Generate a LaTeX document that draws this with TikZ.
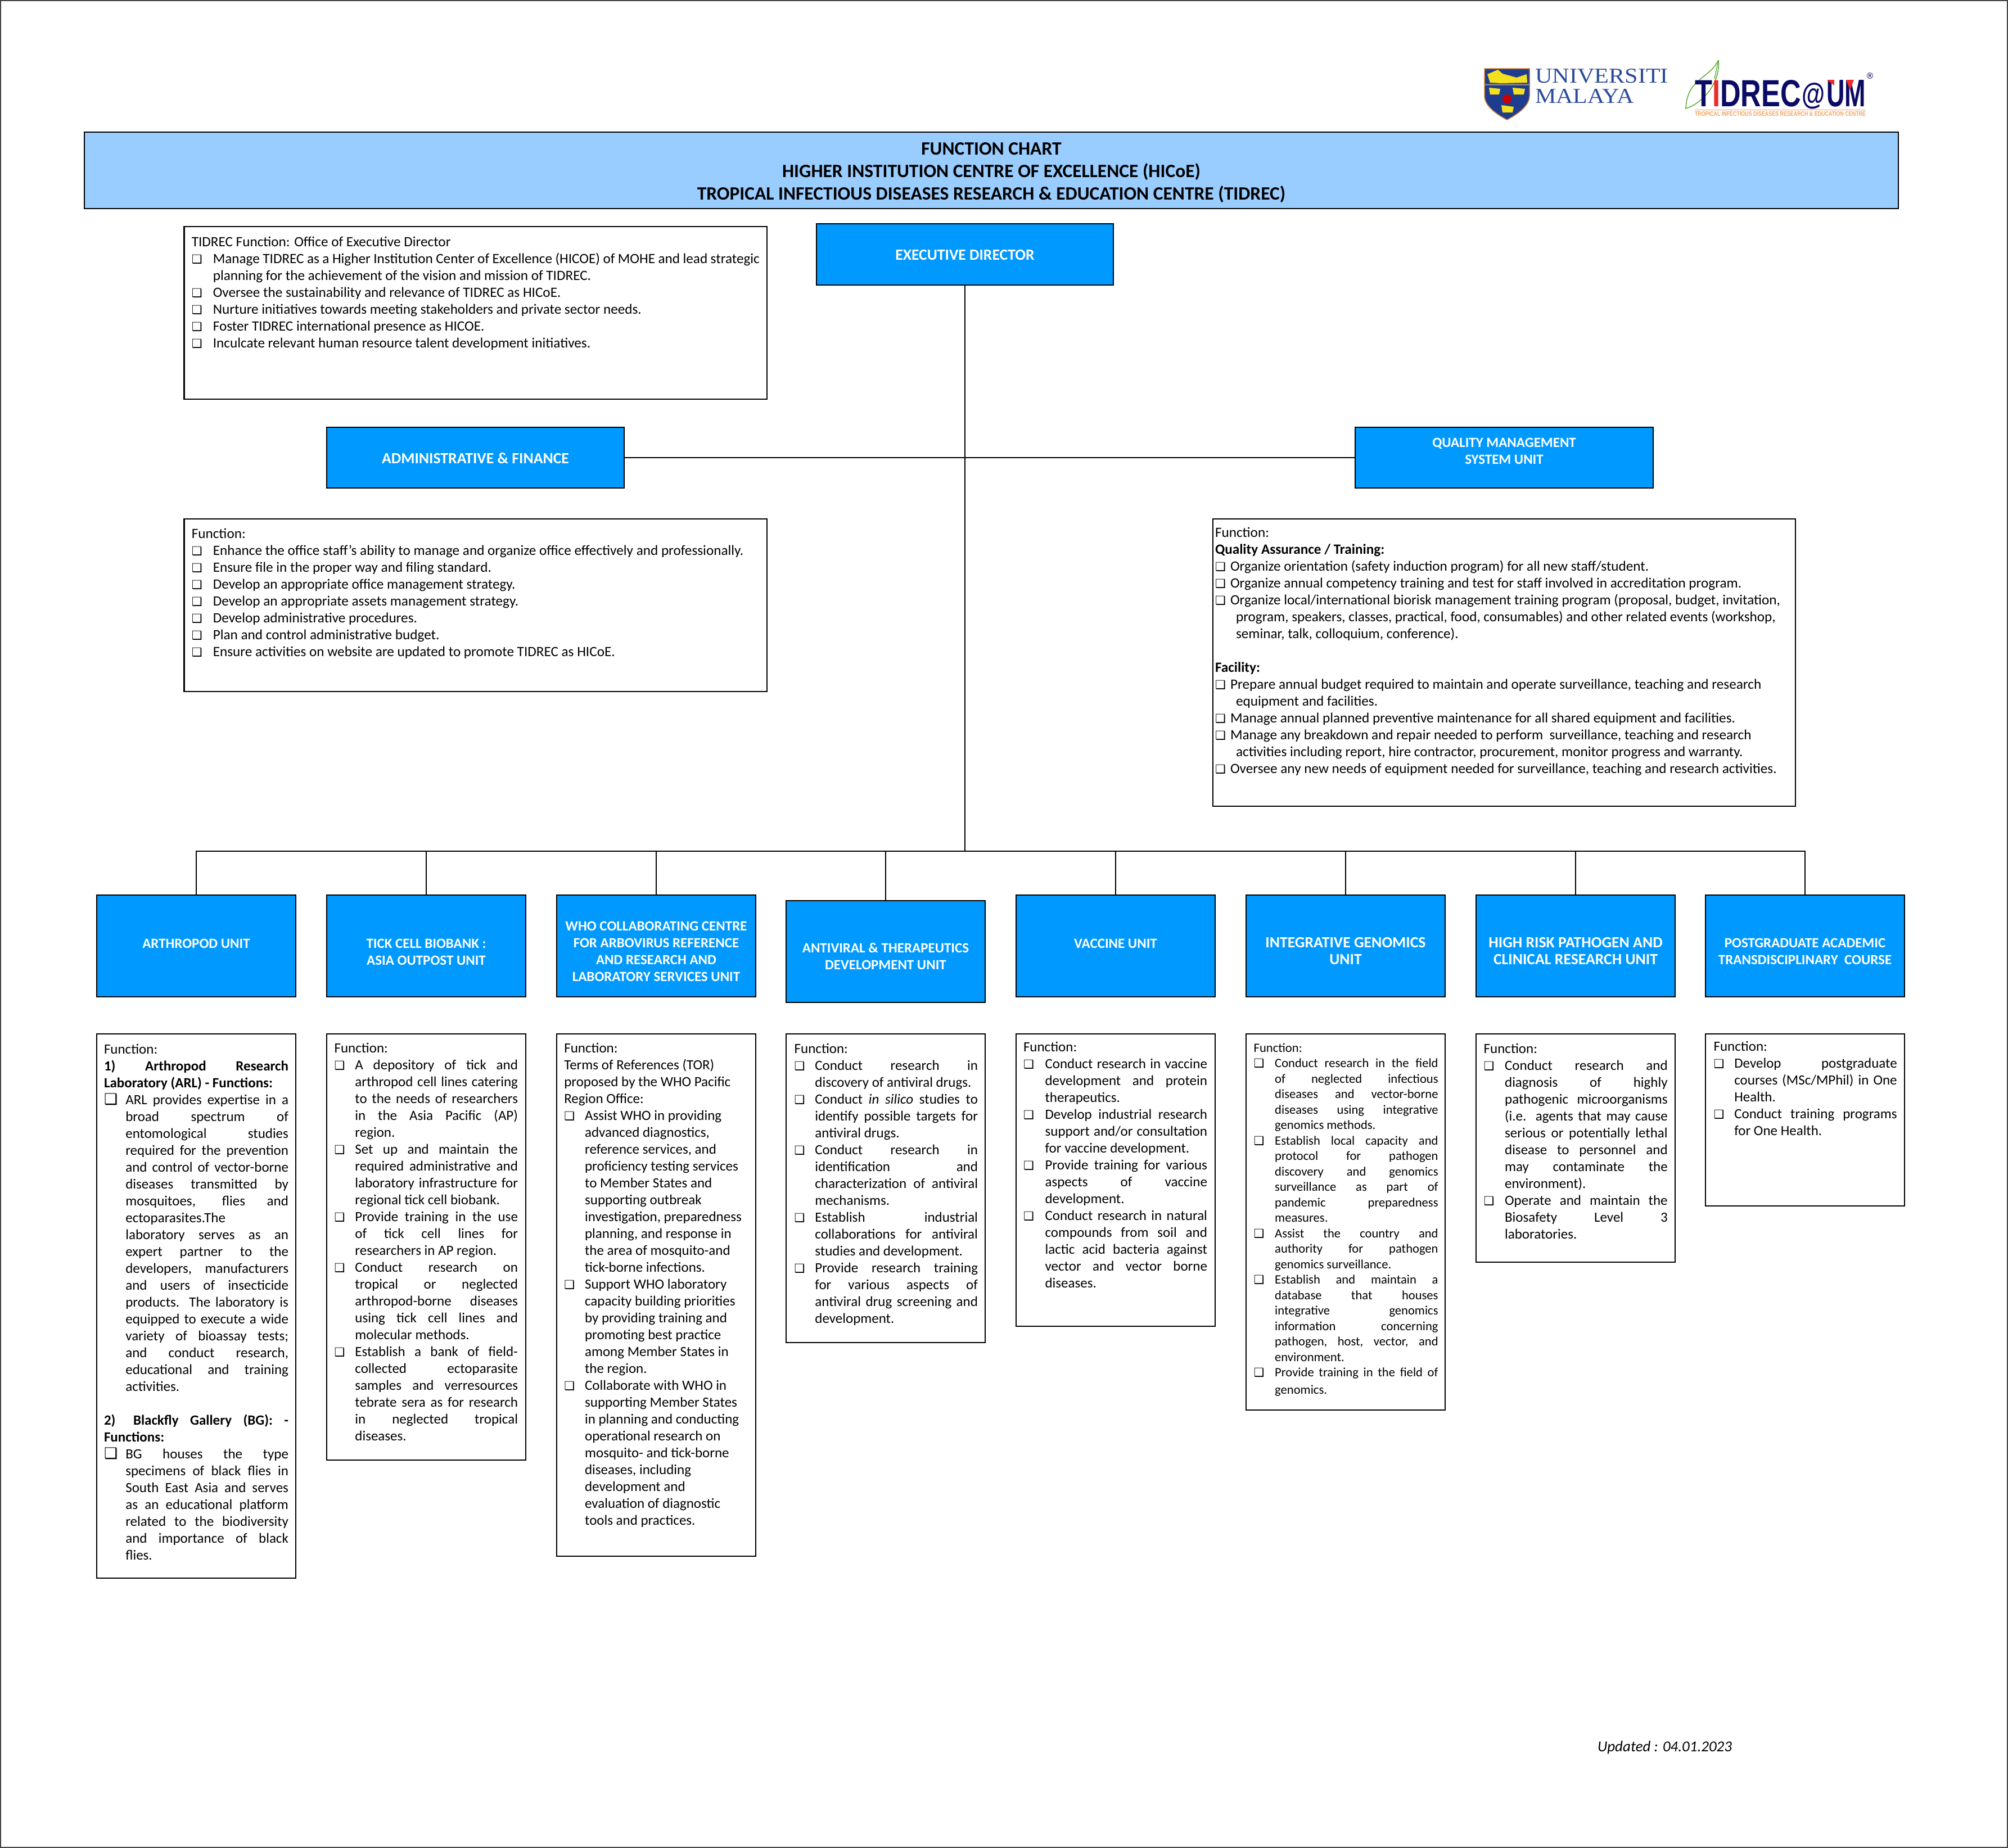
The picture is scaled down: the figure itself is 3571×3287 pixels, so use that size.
\documentclass[tikz,border=0pt]{standalone}
\usepackage{fontspec}
\setmainfont{Carlito}
\newfontfamily\dejavu{DejaVu Sans}
\newfontfamily\serifl{Liberation Serif}
\newfontfamily\sansl{Liberation Sans}
\definecolor{unitblue}{HTML}{0099FF}
\definecolor{headblue}{HTML}{99CCFF}
\definecolor{umblue}{HTML}{2B4A9B}
\definecolor{shieldblue}{HTML}{1F3C8F}
\definecolor{navy}{HTML}{0B0B66}
\definecolor{tidred}{HTML}{EE2B2B}
\definecolor{tidorange}{HTML}{F2A560}
\definecolor{leafgreen}{HTML}{4FA82A}
\definecolor{umgold}{HTML}{F5E020}
\newlength\fL \newlength\fR \newlength\fI \newlength\fB
\def\bsv{21}
\newcommand\Setup[5]{\fontsize{#1pt}{#2pt}\selectfont\setlength\fB{#2pt}\setlength\fL{#3pt}\setlength\fR{#4pt}\setlength\fI{#5pt}}
\newcommand\Body[4]{\vbox to #2pt{\hsize=#1pt\relax\lineskiplimit=-1000pt\baselineskip=\fB\kern\dimexpr#3pt-\fB\relax\hbox{}#4\vfill}}
\newcommand\Bul{\rlap{\hskip0pt\fontsize{\bsv}{\bsv}\selectfont\dejavu ❑}}
\newcommand\Ln[1]{\hbox to \hsize{\hskip\fL #1\hfil\hskip\fR}}
\newcommand\Lj[1]{\hbox to \hsize{\hskip\fL #1\hskip\fR}}
\newcommand\In[1]{\hbox to \hsize{\hskip\fL\hskip\fI #1\hfil\hskip\fR}}
\newcommand\Ij[1]{\hbox to \hsize{\hskip\fL\hskip\fI #1\hskip\fR}}
\newcommand\Bn[1]{\hbox to \hsize{\hskip\fL\Bul\hskip\fI #1\hfil\hskip\fR}}
\newcommand\Bj[1]{\hbox to \hsize{\hskip\fL\Bul\hskip\fI #1\hskip\fR}}
\newcommand\Cn[1]{\hbox to \hsize{\hfil #1\hfil}}
\newcommand\Unit[4]{\Setup{25}{30}{0}{0}{0}\bfseries\Body{#1}{#2}{#3}{#4}}
\newcommand\UnitL[4]{\Setup{27.7}{30}{0}{0}{0}\bfseries\Body{#1}{#2}{#3}{#4}}
\tikzset{
  panel/.style={draw=black,line width=2.2pt,anchor=north west,inner sep=0pt,outer sep=0pt},
  fnbox/.style={panel,fill=white,text=black},
  unitbox/.style={panel,fill=unitblue,text=white},
  headbox/.style={panel,fill=headblue,text=black},
  link/.style={draw=black,line width=2pt},
  logotext/.style={inner sep=0pt,outer sep=0pt,anchor=base west}
}
\begin{document}
\begin{tikzpicture}[x=1pt,y=-1pt]
\useasboundingbox (0,0) rectangle (3571,3287);
\draw[draw=black!75,line width=2pt] (1,1) rectangle (3570,3286);

% --- logos ---
\fill[shieldblue,draw=black!30!orange!80!white,line width=1.5pt] (2640,122) -- (2720,122) -- (2720,170) .. controls (2720,190) and (2695,205) .. (2680,213) .. controls (2665,205) and (2640,190) .. (2640,170) -- cycle;
\fill[umgold] (2645,132) -- (2664,124) -- (2672,131) -- (2697,138) -- (2715,132) -- (2716,147) -- (2670,148) -- (2650,147) -- cycle;
\fill[black!50] (2641,149) rectangle (2719,152);
\fill[umgold] (2648,156) -- (2668,158) -- (2666,168) -- (2650,168) -- cycle;
\fill[umgold] (2690,156) -- (2712,158) -- (2710,168) -- (2692,168) -- cycle;
\fill[umgold] (2670,187) -- (2692,190) -- (2690,200) -- (2672,200) -- cycle;
\fill[red!80!black] (2680,176) circle (8);
\node[logotext,text=umblue] (umone) at (2730,147) {\serifl\resizebox{237pt}{25pt}{UNIVERSITI}};
\node[logotext,text=umblue] (umtwo) at (2730,183) {\serifl\resizebox{176pt}{25pt}{MALAYA}};
\draw[leafgreen,line width=1.4pt] (3056,107) .. controls (3040,140) and (3000,140) .. (2998,193) .. controls (3025,185) and (3060,150) .. (3056,107);
\node[logotext,text=navy] (tidrec) at (3014,189) {\sansl\bfseries\resizebox{189pt}{47pt}{T\textcolor{tidred}{I}DREC}};
\node[logotext,text=navy] (tidat) at (3204,185) {\sansl\bfseries\resizebox{41pt}{38pt}{@}};
\node[logotext,text=navy] (tidum) at (3248,189) {\sansl\bfseries\resizebox{70pt}{47pt}{UM}};
\fill[tidred] (3249,142) -- (3262,142) -- (3262,152) -- cycle;
\fill[tidred] (3283,142) -- (3297,142) -- (3290,160) -- cycle;
\draw[leafgreen,line width=1.2pt] (3056,107) -- (3049,140);
\draw[tidorange,line width=1pt] (3014,195) -- (3318,195);
\node[logotext,text=tidorange] (tidsub) at (3014,206) {\sansl\bfseries\resizebox{304pt}{8pt}{TROPICAL INFECTIOUS DISEASES RESEARCH \& EDUCATION CENTRE}};
\node[logotext,text=navy] (tidr) at (3318,140) {\dejavu\fontsize{15}{15}\selectfont ®};

% --- header ---
\node[headbox] (head) at (150,235) {\Setup{33.5}{40}{0}{0}{0}\bfseries\Body{3226}{136}{40}{%
  \Cn{FUNCTION CHART}\Cn{HIGHER INSTITUTION CENTRE OF EXCELLENCE (HICoE)}\Cn{TROPICAL INFECTIOUS DISEASES RESEARCH \& EDUCATION CENTRE (TIDREC)}}};

% --- top row ---
\node[unitbox] (exec) at (1452,398) {\UnitL{528}{109}{64}{\Cn{EXECUTIVE DIRECTOR}}};
\node[unitbox] (admin) at (581,760) {\UnitL{529}{108}{64}{\Cn{ADMINISTRATIVE \& FINANCE}}};
\node[unitbox] (qms) at (2410,760) {\Unit{530}{108}{35}{\Cn{QUALITY MANAGEMENT}\Cn{SYSTEM UNIT}}};

\node[fnbox] (fexec) at (327.5,403) {\Setup{25.2}{30}{13.3}{13}{38}\Body{1036.5}{307}{35}{%
  \Ln{TIDREC Function: Office of Executive Director}
  \Bn{Manage TIDREC as a Higher Institution Center of Excellence (HICOE) of MOHE and lead strategic}
  \In{planning for the achievement of the vision and mission of TIDREC.}
  \Bn{Oversee the sustainability and relevance of TIDREC as HICoE.}
  \Bn{Nurture initiatives towards meeting stakeholders and private sector needs.}
  \Bn{Foster TIDREC international presence as HICOE.}
  \Bn{Inculcate relevant human resource talent development initiatives.}
}};
\node[fnbox] (fadmin) at (327.5,923) {\Setup{25.2}{30}{13.3}{13}{38}\Body{1036.5}{307}{34}{%
  \Ln{Function:}
  \Bn{Enhance the office staff’s ability to manage and organize office effectively and professionally.}
  \Bn{Ensure file in the proper way and filing standard.}
  \Bn{Develop an appropriate office management strategy.}
  \Bn{Develop an appropriate assets management strategy.}
  \Bn{Develop administrative procedures.}
  \Bn{Plan and control administrative budget.}
  \Bn{Ensure activities on website are updated to promote TIDREC as HICoE.}
}};
\node[fnbox] (fqms) at (2157,923) {\Setup{25.2}{30}{4}{4}{27}\Body{1036}{511}{32}{%
  \Ln{Function:}
  \Ln{\bfseries Quality Assurance / Training:}
  \Bn{Organize orientation (safety induction program) for all new staff/student.}
  \Bn{Organize annual competency training and test for staff involved in accreditation program.}
  \Bn{Organize local/international biorisk management training program (proposal, budget, invitation,}
  \In{\hskip10pt program, speakers, classes, practical, food, consumables) and other related events (workshop,}
  \In{\hskip10pt seminar, talk, colloquium, conference).}
  \Ln{}
  \Ln{\bfseries Facility:}
  \Bn{Prepare annual budget required to maintain and operate surveillance, teaching and research}
  \In{\hskip10pt equipment and facilities.}
  \Bn{Manage annual planned preventive maintenance for all shared equipment and facilities.}
  \Bn{Manage any breakdown and repair needed to perform\ \ surveillance, teaching and research}
  \In{\hskip10pt activities including report, hire contractor, procurement, monitor progress and warranty.}
  \Bn{Oversee any new needs of equipment needed for surveillance, teaching and research activities.}
}};

% --- unit row ---
\node[unitbox] (u1) at (172,1592) {\Unit{354}{181}{94}{\Cn{ARTHROPOD UNIT}}};
\node[unitbox] (u2) at (581,1592) {\Unit{354}{181}{94}{\Cn{TICK CELL BIOBANK :}\Cn{ASIA OUTPOST UNIT}}};
\node[unitbox] (u3) at (990,1592) {\Unit{354}{181}{63}{\Cn{WHO COLLABORATING CENTRE}\Cn{FOR ARBOVIRUS REFERENCE}\Cn{AND RESEARCH AND}\Cn{LABORATORY SERVICES UNIT}}};
\node[unitbox] (u4) at (1398,1602) {\Unit{354}{181}{92.5}{\Cn{ANTIVIRAL \& THERAPEUTICS}\Cn{DEVELOPMENT UNIT}}};
\node[unitbox] (u5) at (1807,1592) {\Unit{354}{181}{94}{\Cn{VACCINE UNIT}}};
\node[unitbox] (u6) at (2216,1592) {\UnitL{354}{181}{93}{\Cn{INTEGRATIVE GENOMICS}\Cn{UNIT}}};
\node[unitbox] (u7) at (2625,1592) {\UnitL{354}{181}{93}{\Cn{HIGH RISK PATHOGEN AND}\Cn{CLINICAL RESEARCH UNIT}}};
\node[unitbox] (u8) at (3033,1592) {\Unit{354}{181}{93}{\Cn{POSTGRADUATE ACADEMIC}\Cn{TRANSDISCIPLINARY\ \ COURSE}}};

% --- unit functions ---
\node[fnbox] (f1) at (172,1839) {\Setup{25}{30}{13}{13}{38.3}\def\bsv{27}\Body{354}{968}{35}{%
  \Ln{Function:}
  \Lj{\bfseries 1) Arthropod Research}
  \Ln{\bfseries Laboratory (ARL) - Functions:}
  \Bj{ARL provides expertise in a}
  \Ij{broad spectrum of}
  \Ij{entomological studies}
  \Ij{required for the prevention}
  \Ij{and control of vector-borne}
  \Ij{diseases transmitted by}
  \Ij{mosquitoes, flies and}
  \In{ectoparasites.The}
  \Ij{laboratory serves as an}
  \Ij{expert partner to the}
  \Ij{developers, manufacturers}
  \Ij{and users of insecticide}
  \Ij{products. The laboratory is}
  \Ij{equipped to execute a wide}
  \Ij{variety of bioassay tests;}
  \Ij{and conduct research,}
  \Ij{educational and training}
  \In{activities.}
  \Ln{}
  \Lj{\bfseries\hbox to 52pt{2)\hfil}Blackfly Gallery (BG): -}
  \Ln{\bfseries Functions:}
  \Bj{BG houses the type}
  \Ij{specimens of black flies in}
  \Ij{South East Asia and serves}
  \Ij{as an educational platform}
  \Ij{related to the biodiversity}
  \Ij{and importance of black}
  \In{flies.}
}};
\node[fnbox] (f2) at (581,1839) {\Setup{25}{30}{13.6}{14}{36.8}\Body{354}{758}{33.6}{%
  \Ln{Function:}
  \Bj{A depository of tick and}
  \Ij{arthropod cell lines catering}
  \Ij{to the needs of researchers}
  \Ij{in the Asia Pacific (AP)}
  \In{region.}
  \Bj{Set up and maintain the}
  \Ij{required administrative and}
  \Ij{laboratory infrastructure for}
  \In{regional tick cell biobank.}
  \Bj{Provide training in the use}
  \Ij{of tick cell lines for}
  \In{researchers in AP region.}
  \Bj{Conduct research on}
  \Ij{tropical or neglected}
  \Ij{arthropod-borne diseases}
  \Ij{using tick cell lines and}
  \In{molecular methods.}
  \Bj{Establish a bank of field-}
  \Ij{collected ectoparasite}
  \Ij{samples and verresources}
  \Ij{tebrate sera as for research}
  \Ij{in neglected tropical}
  \In{diseases.}
}};
\node[fnbox] (f3) at (990,1839) {\Setup{25}{30}{13.3}{13}{36.8}\Body{354}{929}{33.6}{%
  \Ln{Function:}
  \Ln{Terms of References (TOR)}
  \Ln{proposed by the WHO Pacific}
  \Ln{Region Office:}
  \Bn{Assist WHO in providing}
  \In{advanced diagnostics,}
  \In{reference services, and}
  \In{proficiency testing services}
  \In{to Member States and}
  \In{supporting outbreak}
  \In{investigation, preparedness}
  \In{planning, and response in}
  \In{the area of mosquito-and}
  \In{tick-borne infections.}
  \Bn{Support WHO laboratory}
  \In{capacity building priorities}
  \In{by providing training and}
  \In{promoting best practice}
  \In{among Member States in}
  \In{the region.}
  \Bn{Collaborate with WHO in}
  \In{supporting Member States}
  \In{in planning and conducting}
  \In{operational research on}
  \In{mosquito- and tick-borne}
  \In{diseases, including}
  \In{development and}
  \In{evaluation of diagnostic}
  \In{tools and practices.}
}};
\node[fnbox] (f4) at (1398,1839) {\Setup{25}{30}{14.7}{13}{36.7}\Body{354}{549}{34}{%
  \Ln{Function:}
  \Bj{Conduct research in}
  \In{discovery of antiviral drugs.}
  \Bj{Conduct \textit{in silico} studies to}
  \Ij{identify possible targets for}
  \In{antiviral drugs.}
  \Bj{Conduct research in}
  \Ij{identification and}
  \Ij{characterization of antiviral}
  \In{mechanisms.}
  \Bj{Establish industrial}
  \Ij{collaborations for antiviral}
  \In{studies and development.}
  \Bj{Provide research training}
  \Ij{for various aspects of}
  \Ij{antiviral drug screening and}
  \In{development.}
}};
\node[fnbox] (f5) at (1807,1839) {\Setup{25}{30}{13}{14}{38.6}\Body{354}{520}{31}{%
  \Ln{Function:}
  \Bj{Conduct research in vaccine}
  \Ij{development and protein}
  \In{therapeutics.}
  \Bj{Develop industrial research}
  \Ij{support and/or consultation}
  \In{for vaccine development.}
  \Bj{Provide training for various}
  \Ij{aspects of vaccine}
  \In{development.}
  \Bj{Conduct research in natural}
  \Ij{compounds from soil and}
  \Ij{lactic acid bacteria against}
  \Ij{vector and vector borne}
  \In{diseases.}
}};
\node[fnbox] (f6) at (2216,1839) {\Setup{22.6}{27.5}{13.7}{12.4}{37.5}\Body{354}{669}{32}{%
  \Ln{Function:}
  \Bj{Conduct research in the field}
  \Ij{of neglected infectious}
  \Ij{diseases and vector-borne}
  \Ij{diseases using integrative}
  \In{genomics methods.}
  \Bj{Establish local capacity and}
  \Ij{protocol for pathogen}
  \Ij{discovery and genomics}
  \Ij{surveillance as part of}
  \Ij{pandemic preparedness}
  \In{measures.}
  \Bj{Assist the country and}
  \Ij{authority for pathogen}
  \In{genomics surveillance.}
  \Bj{Establish and maintain a}
  \Ij{database that houses}
  \Ij{integrative genomics}
  \Ij{information concerning}
  \Ij{pathogen, host, vector, and}
  \In{environment.}
  \Bj{Provide training in the field of}
  \kern3pt
  \In{genomics.}
}};
\node[fnbox] (f7) at (2625,1839) {\Setup{25}{30}{13.7}{13.3}{37.4}\Body{354}{406}{34.5}{%
  \Ln{Function:}
  \Bj{Conduct research and}
  \Ij{diagnosis of highly}
  \Ij{pathogenic microorganisms}
  \Ij{(i.e. agents that may cause}
  \Ij{serious or potentially lethal}
  \Ij{disease to personnel and}
  \Ij{may contaminate the}
  \In{environment).}
  \Bj{Operate and maintain the}
  \Ij{Biosafety Level 3}
  \In{laboratories.}
}};
\node[fnbox] (f8) at (3033,1839) {\Setup{25}{30}{14.6}{13.3}{36.7}\Body{354}{306}{30}{%
  \Ln{Function:}
  \Bj{Develop postgraduate}
  \Ij{courses (MSc/MPhil) in One}
  \In{Health.}
  \Bj{Conduct training programs}
  \In{for One Health.}
}};

\node[logotext,text=black] (upd) at (2841,3115) {\fontsize{27}{30}\selectfont\itshape Updated : 04.01.2023};

% --- connectors ---
\coordinate (bus) at (1716,1514);
\draw[link] (exec.south) -- (exec.south |- bus);
\draw[link] (admin.east) -- (qms.west);
\draw[link] (u1.north) -- (u1.north |- bus) -- (u8.north |- bus) -- (u8.north);
\foreach \n in {u2,u3,u4,u5,u6,u7} \draw[link] (\n.north) -- (\n.north |- bus);
\end{tikzpicture}
\end{document}
